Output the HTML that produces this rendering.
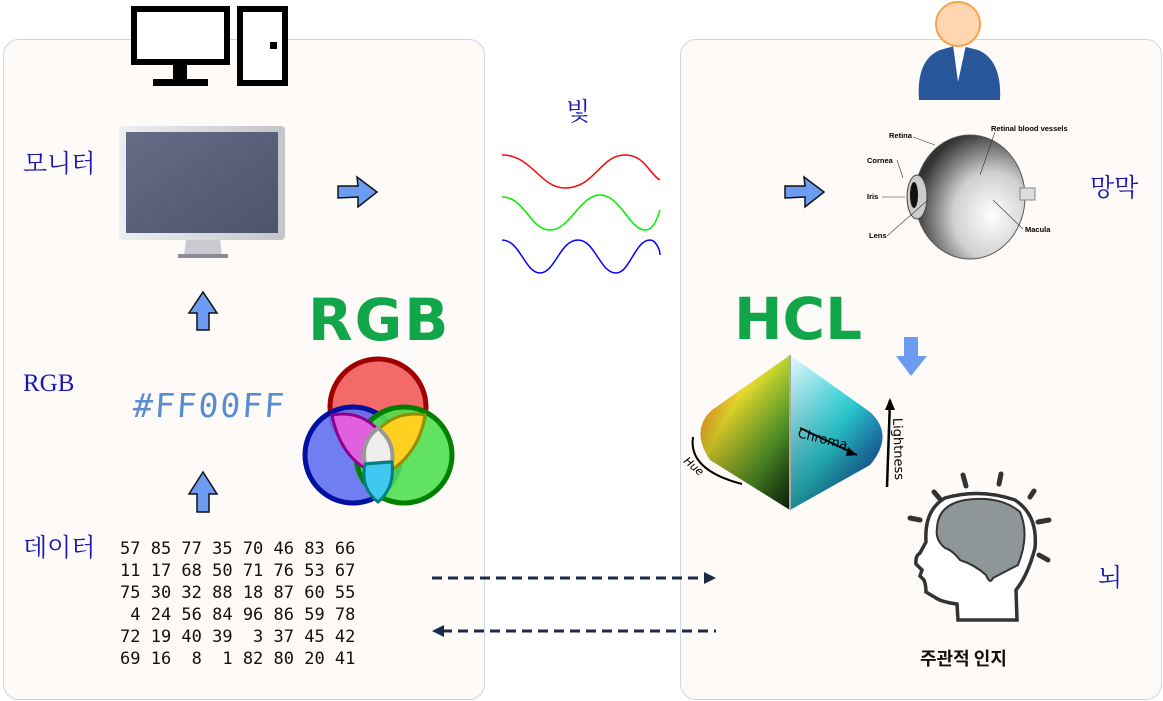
<!DOCTYPE html>
<html><head><meta charset="utf-8"><style>
body{margin:0;width:1163px;height:701px;background:#fff;position:relative;overflow:hidden;font-family:"Liberation Sans","Noto Sans CJK KR",sans-serif}
.panel{position:absolute;background:#fdfaf7;border:1px solid #ccd6ea;border-radius:16px}
.lbl{position:absolute;font-family:"Liberation Serif","Noto Serif CJK SC","Noto Sans CJK KR",serif;color:#1a1ab0;font-size:25px}
svg{position:absolute;left:0;top:0}
</style></head><body>
<div class="panel" style="left:3px;top:39px;width:480px;height:659px"></div>
<div class="panel" style="left:680px;top:39px;width:480px;height:659px"></div>

<div class="lbl" style="left:23px;top:144px">모니터</div>
<div class="lbl" style="left:23px;top:370px">RGB</div>
<div class="lbl" style="left:23px;top:528px">데이터</div>
<div class="lbl" style="left:566px;top:92px">빛</div>
<div class="lbl" style="left:1090px;top:168px">망막</div>
<div class="lbl" style="left:1098px;top:558px">뇌</div>
<div style="position:absolute;left:920px;top:645px;font-size:18px;font-weight:bold;color:#111;font-family:'Noto Sans CJK KR',sans-serif">주관적 인지</div>
<div style="position:absolute;left:133px;top:386px;font-size:33px;color:#5a8cd0;font-family:'DejaVu Sans Mono',monospace;letter-spacing:2px;transform:skewX(-4deg)">#FF00FF</div>
<div style="position:absolute;left:308px;top:286px;font-size:58px;color:#12a64a;font-family:'DejaVu Sans',sans-serif;font-weight:bold;letter-spacing:2px">RGB</div>
<div style="position:absolute;left:734px;top:285px;font-size:58px;color:#12a64a;font-family:'DejaVu Sans',sans-serif;font-weight:bold;letter-spacing:0px">HCL</div>
<pre style="position:absolute;left:120px;top:538px;margin:0;font-family:'DejaVu Sans Mono',monospace;font-size:17px;line-height:22px;color:#111">57 85 77 35 70 46 83 66
11 17 68 50 71 76 53 67
75 30 32 88 18 87 60 55
 4 24 56 84 96 86 59 78
72 19 40 39  3 37 45 42
69 16  8  1 82 80 20 41</pre>

<svg width="1163" height="701">
<defs>
<linearGradient id="scr" x1="0" y1="0" x2="1" y2="1"><stop offset="0" stop-color="#676b86"/><stop offset="1" stop-color="#4e536c"/></linearGradient>
<linearGradient id="bez" x1="0" y1="0" x2="1" y2="0"><stop offset="0" stop-color="#eceef1"/><stop offset="1" stop-color="#c4c5c9"/></linearGradient>
<linearGradient id="coneL" x1="0" y1="0" x2="1" y2="1"><stop offset="0" stop-color="#ff4020"/><stop offset=".35" stop-color="#fff030"/><stop offset=".7" stop-color="#60b030"/><stop offset="1" stop-color="#103010"/></linearGradient>
<linearGradient id="coneR" x1="0" y1="0" x2="1" y2="1"><stop offset="0" stop-color="#e8fbff"/><stop offset=".5" stop-color="#30e8f0"/><stop offset="1" stop-color="#1030a0"/></linearGradient>
<linearGradient id="coneB" x1="0" y1="0" x2="0" y2="1"><stop offset="0" stop-color="#000" stop-opacity="0"/><stop offset="1" stop-color="#000" stop-opacity=".8"/></linearGradient>
<radialGradient id="eyeg" cx=".7" cy=".65" r=".7"><stop offset="0" stop-color="#fff"/><stop offset=".5" stop-color="#d0d0d0"/><stop offset="1" stop-color="#333"/></radialGradient>
</defs>
<g>
<rect x="134" y="9" width="93" height="53" fill="#fff" stroke="#000" stroke-width="6"/>
<rect x="173" y="65" width="14" height="14" fill="#000"/><rect x="153" y="79" width="55" height="7" fill="#000"/>
<rect x="240" y="9" width="45" height="74" fill="#fff" stroke="#000" stroke-width="6"/><rect x="270" y="42" width="7" height="7" fill="#000"/>
</g>
<g>
<rect x="119" y="126" width="166" height="114" rx="4" fill="url(#bez)"/>
<rect x="126" y="132" width="152" height="101" fill="url(#scr)"/>
<path d="M186 240 L220 240 L222 255 L184 255Z" fill="#c9cad0"/><rect x="178" y="254" width="50" height="4" fill="#8a8b95"/>
</g>
<g fill="#6b9cf2" stroke="#111" stroke-width="1.5">
<path d="M338 186 L358 186 L357 177 L377 192 L358 207 L358 197 L338 198Z"/>
<path d="M785 186 L805 186 L804 177 L824 192 L805 207 L805 197 L785 198Z"/>
<path d="M197 330 L197 313 L189 313 L203 292 L217 313 L209 313 L209 330Z"/>
<path d="M197 512 L197 494 L189 494 L203 472 L217 494 L209 494 L209 512Z"/>
<path d="M904 337 L918 337 L918 356 L927 356 L911 376 L896 356 L904 356Z" stroke="none"/>
</g>
<g fill="none" stroke-width="1.5">
<path d="M502 155 C532 155 540 188 565 188 C595 188 600 155 625 155 C645 155 650 175 660 180" stroke="#f00"/>
<path d="M502 197 C525 197 530 230 550 230 C570 230 580 195 600 195 C620 195 630 230 645 230 C655 230 658 215 660 210" stroke="#0e0"/>
<path d="M502 240 C520 240 525 273 540 273 C555 273 560 240 578 240 C595 240 600 273 616 273 C630 273 635 240 650 240 C656 240 660 250 660 255" stroke="#00f"/>
</g>
<g stroke-width="5">
<circle cx="378" cy="407" r="48" fill="#f46a6a" stroke="#a00000"/>
<circle cx="353" cy="455" r="48" fill="#6070f0" stroke="#0010a0" fill-opacity=".9"/>
<circle cx="404" cy="455" r="48" fill="#50e050" stroke="#008000" fill-opacity=".9"/>
<path d="M332 415 Q360 410 378 430 Q370 450 368 470 Q340 455 332 415Z" fill="#e060e0" stroke="#900090" stroke-width="3"/>
<path d="M378 430 Q398 410 425 415 Q420 450 392 470 Q392 445 378 430Z" fill="#ffd020" stroke="#909000" stroke-width="3"/>
<path d="M378 428 Q395 442 392 462 L365 464 Q360 442 378 428Z" fill="#eee" stroke="#999" stroke-width="4"/>
<path d="M365 464 L392 462 Q395 488 378 502 Q360 488 365 464Z" fill="#40c8f0" stroke="#008080" stroke-width="3"/>
</g>
<g>
<path d="M790 355 L712 410 Q690 430 710 460 L790 510Z" fill="url(#coneL)"/>
<path d="M790 355 L870 412 Q895 435 870 465 L790 510Z" fill="url(#coneR)"/>
<path d="M790 355 L712 410 Q690 430 710 460 L790 510 L870 465 Q895 435 870 412Z" fill="url(#coneB)" opacity=".5"/>
<line x1="790" y1="355" x2="790" y2="510" stroke="#aaa" stroke-width="2"/>
<path d="M800 428 L857 455" stroke="#000" stroke-width="2"/><path d="M857 455 L848 447 L846 456Z" fill="#000"/>
<text x="797" y="437" font-size="13" transform="rotate(14 797 437)" font-family="DejaVu Sans">Chroma</text>
<path d="M887 487 L890 400" stroke="#000" stroke-width="2.5"/><path d="M890 398 L885 410 L895 410Z" fill="#000"/>
<text x="893" y="418" font-size="13" transform="rotate(88 893 418)" font-family="DejaVu Sans">Lightness</text>
<path d="M693 437 Q688 470 742 484" stroke="#000" stroke-width="2" fill="none"/>
<text x="683" y="462" font-size="11" font-style="italic" transform="rotate(40 683 462)" font-family="DejaVu Sans">Hue</text>
</g>
<g>
<path d="M919 100 Q916 60 940 50 L958 45 L978 50 Q1002 60 1000 100Z" fill="#27579a"/>
<path d="M953 45 L958 82 L966 45Z" fill="#fff"/>
<circle cx="958" cy="24" r="22" fill="#fed7b1" stroke="#f5a550" stroke-width="2"/>
</g>
<g font-size="7.5" font-family="Liberation Sans" font-weight="bold">
<ellipse cx="970" cy="197" rx="55" ry="62" fill="url(#eyeg)" stroke="#555"/>
<ellipse cx="917" cy="197" rx="10" ry="22" fill="#ccc" stroke="#444"/>
<ellipse cx="914" cy="195" rx="4" ry="13" fill="#111"/>
<rect x="1020" y="188" width="15" height="12" fill="#ddd" stroke="#888"/>
<g stroke="#333" stroke-width=".6"><line x1="913" y1="137" x2="935" y2="145"/><line x1="897" y1="160" x2="903" y2="178"/><line x1="882" y1="197" x2="905" y2="197"/><line x1="887" y1="236" x2="928" y2="200"/><line x1="1023" y1="229" x2="993" y2="200"/><line x1="995" y1="132" x2="980" y2="175"/></g>
<text x="889" y="138">Retina</text><text x="991" y="131">Retinal blood vessels</text><text x="867" y="163">Cornea</text><text x="867" y="199">Iris</text><text x="869" y="238">Lens</text><text x="1025" y="232">Macula</text>
</g>
<g>
<g stroke="#333" stroke-width="5" stroke-linecap="round"><line x1="963" y1="475" x2="966" y2="486"/><line x1="1001" y1="474" x2="999" y2="484"/><line x1="934" y1="492" x2="940" y2="499"/><line x1="1034" y1="491" x2="1030" y2="497"/><line x1="910" y1="518" x2="920" y2="520"/><line x1="1049" y1="520" x2="1038" y2="522"/><line x1="1039" y1="555" x2="1048" y2="560"/></g>
<path d="M958 620 L957 604 Q942 602 936 598 L926 592 Q926 585 924 580 L920 576 L922 570 L916 564 Q915 556 920 553 L926 542 Q924 510 945 498 Q980 488 1015 500 Q1038 515 1035 548 Q1028 575 1016 590 L1017 620Z" fill="#fff" stroke="#333" stroke-width="3.5"/>
<path d="M937 528 Q938 505 965 500 Q1000 495 1020 512 Q1030 535 1018 565 L993 578 Q990 585 986 575 Q975 565 960 560 Q952 550 945 548 Q935 540 937 528Z" fill="#8e9697" stroke="#333" stroke-width="2"/>
</g>
<g stroke="#1a2a48" stroke-width="3" fill="#1a2a48">
<line x1="432" y1="578" x2="706" y2="578" stroke-dasharray="10 6"/><path d="M716 578 L704 572 L704 584Z" stroke="none"/>
<line x1="442" y1="631" x2="716" y2="631" stroke-dasharray="10 6"/><path d="M432 631 L444 625 L444 637Z" stroke="none"/>
</g>
</svg>
</body></html>
